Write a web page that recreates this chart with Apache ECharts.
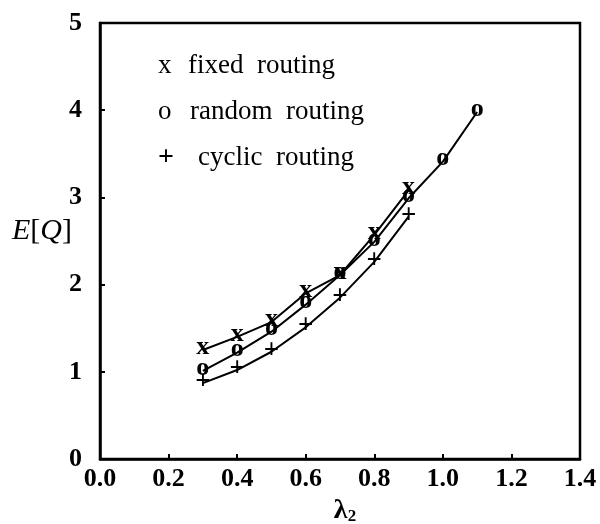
<!DOCTYPE html>
<html><head><meta charset="utf-8">
<script src="https://cdn.jsdelivr.net/npm/echarts@6/dist/echarts.min.js"></script>
<style>html,body{margin:0;padding:0;background:#fff}#c{width:600px;height:524px}</style>
</head><body><div id="c"></div>
<script>
const lambdaShort = [0.3, 0.4, 0.5, 0.6, 0.7, 0.8, 0.9];
const lambdaLong = [0.3, 0.4, 0.5, 0.6, 0.7, 0.8, 0.9, 1.0, 1.1];
const fixedRouting = [1.25, 1.40, 1.57, 1.90, 2.11, 2.57, 3.08];
const randomRouting = [1.01, 1.22, 1.46, 1.77, 2.11, 2.49, 2.99, 3.41, 3.98];
const cyclicRouting = [0.87, 1.02, 1.23, 1.51, 1.85, 2.26, 2.78];
const seriesNames = ['fixed routing', 'random routing', 'cyclic routing'];
const seriesMarks = ['x', 'o', '+'];

const serif = 'Liberation Serif';
function pairs(xs, ys) { return xs.map((x, i) => [x, ys[i]]); }
function mkSeries(name, mark, data, dy, size) {
  return {
    name: name, type: 'line', data: data,
    symbol: 'circle', symbolSize: 2,
    itemStyle: { color: 'rgba(0,0,0,0)' },
    lineStyle: { color: '#000', width: 2 },
    label: { show: true, position: 'inside', formatter: mark, offset: [0, dy],
      color: '#000', fontFamily: serif, fontSize: size, fontWeight: 'bold' },
    emphasis: { disabled: true }, animation: false, z: 3
  };
}
const markWidths = [30, 32, 40];
const chart = echarts.init(document.getElementById('c'));
chart.setOption({
  animation: false,
  backgroundColor: '#fff',
  grid: { left: 100, right: 20, top: 23, bottom: 65, containLabel: false, outerBoundsMode: 'none',
    show: true, borderColor: '#000', borderWidth: 2.5 },
  legend: {
    orient: 'vertical', left: 148, top: 47, icon: 'none', itemWidth: 0, itemGap: 19,
    data: seriesNames,
    formatter: function (n) { const k = seriesNames.indexOf(n); return '{m' + k + '|' + seriesMarks[k] + '}{t|' + n.replace(' ', '  ') + '}'; },
    textStyle: { color: '#000', fontFamily: serif, fontSize: 27,
      rich: {
        m0: { width: markWidths[0], fontFamily: serif, fontSize: 27, color: '#000' },
        m1: { width: markWidths[1], fontFamily: serif, fontSize: 27, color: '#000' },
        m2: { width: markWidths[2], fontFamily: serif, fontSize: 28, fontWeight: 'bold', color: '#000' },
        t: { fontFamily: serif, fontSize: 27, color: '#000' } } }
  },
  xAxis: {
    type: 'value', min: 0, max: 1.4, interval: 0.2,
    axisLine: { lineStyle: { color: '#000', width: 2.5 } },
    axisTick: { inside: true, length: 5, lineStyle: { color: '#000', width: 2 } },
    splitLine: { show: false },
    axisLabel: { color: '#000', fontFamily: serif, fontWeight: 'bold', fontSize: 26, margin: 7,
      formatter: v => v.toFixed(1) },
    name: '{a|λ}{b|2}', nameLocation: 'middle', nameGap: 32,
    nameTextStyle: { rich: { a: { fontFamily: serif, fontSize: 28, fontWeight: 'bold', color: '#000', padding: [0, 0, 0, 10] },
      b: { fontFamily: serif, fontSize: 17, fontWeight: 'bold', color: '#000', verticalAlign: 'bottom', padding: [10, 0, 0, 0] } } }
  },
  yAxis: {
    type: 'value', min: 0, max: 5, interval: 1,
    axisLine: { lineStyle: { color: '#000', width: 2.5 } },
    axisTick: { inside: true, length: 5, lineStyle: { color: '#000', width: 2 } },
    splitLine: { show: false },
    axisLabel: { color: '#000', fontFamily: serif, fontWeight: 'bold', fontSize: 26, margin: 18 }
  },
  graphic: [{
    type: 'text', left: 12, top: 216,
    style: { text: '{i|E}{n|[}{i|Q}{n|]}', fill: '#000',
      rich: { i: { fontFamily: serif, fontStyle: 'italic', fontSize: 30, fill: '#000' },
              n: { fontFamily: serif, fontSize: 30, fill: '#000' } } }
  }],
  series: [
    mkSeries(seriesNames[0], seriesMarks[0], pairs(lambdaShort, fixedRouting), -3, 26),
    mkSeries(seriesNames[1], seriesMarks[1], pairs(lambdaLong, randomRouting), -3, 26),
    mkSeries(seriesNames[2], seriesMarks[2], pairs(lambdaShort, cyclicRouting), -1, 27)
  ]
});
</script></body></html>
